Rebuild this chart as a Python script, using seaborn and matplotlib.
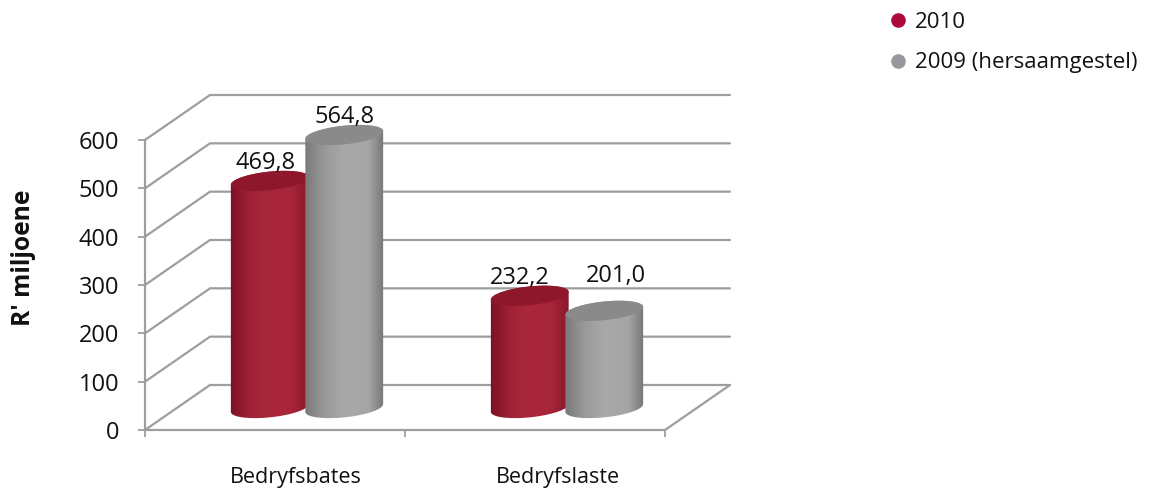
import numpy as np
import pandas as pd
import matplotlib
matplotlib.use("Agg")
import matplotlib.pyplot as plt
import seaborn as sns
from matplotlib.colors import LinearSegmentedColormap
from matplotlib.lines import Line2D
from matplotlib.path import Path

# Data
categories = ["Bedryfsbates", "Bedryfslaste"]
series_names = ["2010", "2009 (hersaamgestel)"]
values_2010 = [469.8, 232.2]
values_2009 = [564.8, 201.0]
value_labels = [["469,8", "232,2"], ["564,8", "201,0"]]
y_ticks = [0, 100, 200, 300, 400, 500, 600]

# Style
line_grey = "#9e9e9e"
bar_base = ["#a82638", "#a6a6a6"]
cap_colours = ["#8e172b", "#8a8a8a"]
legend_colours = ["#ae0a3c", "#97989d"]
gradients = [
    [(0, "#7c1026"), (0.25, "#9f2237"), (0.5, "#ab283c"), (0.75, "#a8263a"), (1, "#86162b")],
    [(0, "#787878"), (0.25, "#999999"), (0.5, "#a9a9a9"), (0.8, "#a5a5a5"), (1, "#747474")],
]
depth = (65, 45)
mid_depth = (32, 22)
label_nudge = [[(-4, 1), (-10, 1)], [(0, 1), (12, -16)]]

sns.set_style("white")
plt.rcParams["font.family"] = ["Open Sans", "DejaVu Sans"]

W, H = 1154, 490
fig = plt.figure(figsize=(W / 100, H / 100), dpi=100)
ax = fig.add_axes([145 / W, 1 - 430 / H, 520 / W, 290 / H])
ax.patch.set_alpha(0)

df = pd.DataFrame({
    "category": categories * 2,
    "series": [series_names[0]] * 2 + [series_names[1]] * 2,
    "value": values_2010 + values_2009,
})
sns.barplot(data=df, x="category", y="value", hue="series", hue_order=series_names,
            palette=bar_base, width=0.573, gap=0, legend=False, ax=ax, linewidth=0)

ax.set_xlim(-0.5, 1.5)
ax.set_ylim(0, 600)
ax.set_xlabel("")
ax.set_ylabel("")
ax.set_yticks(y_ticks)
ax.set_xticks([-0.5, 0.5, 1.5])
ax.set_xticklabels([])
ax.tick_params(axis="y", length=5, width=1.3, color=line_grey, pad=13.5, labelsize=17, left=True)
ax.tick_params(axis="x", length=5, width=1.3, color=line_grey, bottom=True)
for side in ["top", "right"]:
    ax.spines[side].set_visible(False)
for side in ["left", "bottom"]:
    ax.spines[side].set_color(line_grey)
    ax.spines[side].set_linewidth(1.6)
for label in ax.get_yticklabels():
    label.set_color("#111111")

fig.text(24 / W, 1 - 258 / H, "R' miljoene", rotation=90, ha="center", va="center",
         fontsize=17.7, fontweight="bold", color="#111111")

for i, cat in enumerate(categories):
    ax.annotate(cat, xy=(i, 0), xytext=(21 + 2 * i, -47), textcoords="offset pixels",
                ha="center", va="center", fontsize=15.5, color="#111111")

# overlay in image pixels for the fake 3d parts
ov = fig.add_axes([0, 0, 1, 1])
ov.axis("off")
ov.patch.set_alpha(0)


def to_px(x, y):
    dx, dy = ax.transData.transform((x, y))
    return dx, H - dy


# walls and floor
for v in y_ticks:
    x0, y0 = to_px(-0.5, v)
    x1, y1 = to_px(1.5, v)
    bx, by = x0 + depth[0], y0 - depth[1]
    ov.plot([x0, bx, x1 + depth[0]], [y0, by, by], color=line_grey, lw=1.6, solid_joinstyle="miter")
x1, y1 = to_px(1.5, 0)
ov.plot([x1, x1 + depth[0]], [y1, y1 - depth[1]], color=line_grey, lw=1.6)


def ellipse_pts(cx, cy, a, b, t):
    th = np.radians(6)
    xs = cx + a * np.cos(t) * np.cos(th) + b * np.sin(t) * np.sin(th)
    ys = cy - a * np.cos(t) * np.sin(th) + b * np.sin(t) * np.cos(th)
    return xs, ys


# cylinders, built on the seaborn bars
z = 5
for s, container in enumerate(ax.containers):
    cmap = LinearSegmentedColormap.from_list("cyl", gradients[s])
    for c, bar in enumerate(container.patches):
        left, base = to_px(bar.get_x(), 0)
        right, top = to_px(bar.get_x() + bar.get_width(), bar.get_height())
        cx = (left + right) / 2 + mid_depth[0]
        a = (right - left) * 1.05 / 2
        b = 9.3
        y_top = top - mid_depth[1]
        y_base = base - mid_depth[1]

        xb, yb = ellipse_pts(cx, y_base, a, b, np.linspace(0, np.pi, 60))
        xt, yt = ellipse_pts(cx, y_top, a, b, np.linspace(np.pi, 2 * np.pi, 60))
        body = np.column_stack([np.r_[xb, xt], np.r_[yb, yt]])
        body_path = Path(np.vstack([body, body[0]]), closed=True)

        grad = np.linspace(0, 1, 200).reshape(1, -1)
        im = ov.imshow(grad, cmap=cmap, aspect="auto", zorder=z,
                       extent=[cx - a - 1, cx + a + 1, y_base + 12, y_top - 12])
        im.set_clip_path(body_path, ov.transData)

        xc, yc = ellipse_pts(cx, y_top, a, b, np.linspace(0, 2 * np.pi, 120))
        ov.fill(xc, yc, color=cap_colours[s], lw=0, zorder=z + 0.5)
        bar.set_visible(False)

        nx, ny = label_nudge[s][c]
        ov.text(cx + nx, y_top - 13 + ny, value_labels[s][c], ha="center", va="baseline",
                fontsize=17, color="#111111", zorder=20)
        z += 1

ov.set_xlim(0, W)
ov.set_ylim(H, 0)

handles = [Line2D([], [], ls="", marker="o", ms=9.5, color=col) for col in legend_colours]
fig.legend(handles, series_names, loc="upper left", bbox_to_anchor=(880 / W, 1 - 12 / H),
           frameon=False, fontsize=16, labelspacing=0.87, handlelength=1.6, handletextpad=-0.03,
           labelcolor="#111111", borderaxespad=0, borderpad=0)

fig.savefig("out.png", dpi=100)
